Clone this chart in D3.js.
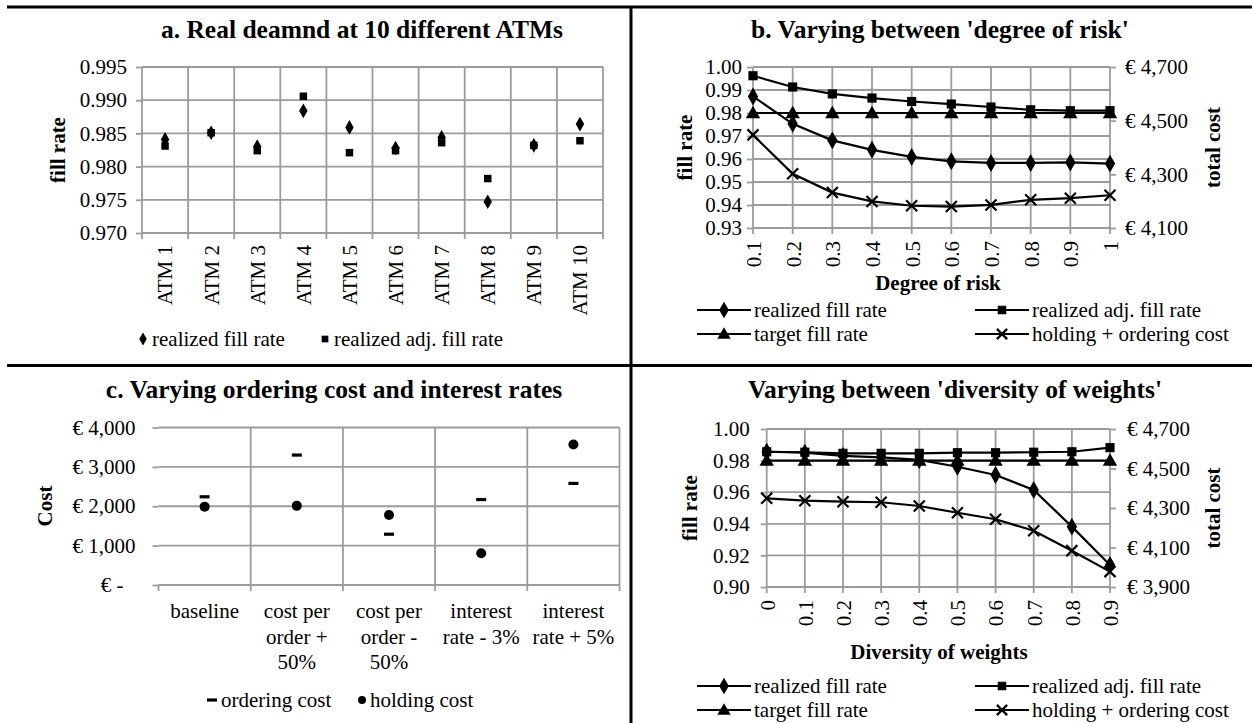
<!DOCTYPE html>
<html><head><meta charset="utf-8">
<script src="https://cdn.jsdelivr.net/npm/d3@7"></script>
<style>
body{margin:0;background:#fff;}
svg, svg text{font-family:"Liberation Serif","Tinos","Times New Roman","DejaVu Serif",serif;}
</style></head><body>
<svg id="chart" width="1252" height="723" font-family="Liberation Serif, Times New Roman, serif"></svg>
<script>
// ---------- Panel a data ----------
const atmCategories = ["ATM 1","ATM 2","ATM 3","ATM 4","ATM 5","ATM 6","ATM 7","ATM 8","ATM 9","ATM 10"];
const atmRealizedFill    = [0.9841,0.9851,0.9830,0.9884,0.9859,0.9828,0.9844,0.9747,0.9832,0.9864];
const atmRealizedAdjFill = [0.9831,0.9851,0.9824,0.9906,0.9821,0.9824,0.9836,0.9782,0.9832,0.9839];
const atmTicks = [0.970,0.975,0.980,0.985,0.990,0.995];

// ---------- Panel b data ----------
const riskLevels = ["0.1","0.2","0.3","0.4","0.5","0.6","0.7","0.8","0.9","1"];
const riskRealizedFill    = [0.9872,0.9753,0.9681,0.9640,0.9609,0.9590,0.9583,0.9583,0.9585,0.9580];
const riskRealizedAdjFill = [0.9962,0.9913,0.9883,0.9865,0.9850,0.9839,0.9826,0.9814,0.9810,0.9810];
const riskTargetFill      = [0.98,0.98,0.98,0.98,0.98,0.98,0.98,0.98,0.98,0.98];
const riskTotalCost       = [4447,4302,4232,4199,4183,4180,4186,4205,4211,4222];
const riskFillTicks = [0.93,0.94,0.95,0.96,0.97,0.98,0.99,1.00];
const riskCostTicks = [4100,4300,4500,4700];

// ---------- Panel c data ----------
const costScenarios = ["baseline","cost per order + 50%","cost per order - 50%","interest rate - 3%","interest rate + 5%"];
const costScenarioLines = [["baseline"],["cost per","order +","50%"],["cost per","order -","50%"],["interest","rate - 3%"],["interest","rate + 5%"]];
const orderingCost = [2240,3300,1290,2170,2580];
const holdingCost  = [1990,2010,1780,805,3570];
const costTicks = [0,1000,2000,3000,4000];

// ---------- Panel d data ----------
const diversityLevels = ["0","0.1","0.2","0.3","0.4","0.5","0.6","0.7","0.8","0.9"];
const divRealizedFill    = [0.9856,0.9850,0.9830,0.9820,0.9804,0.9761,0.9709,0.9614,0.9382,0.9139];
const divRealizedAdjFill = [0.9856,0.9853,0.9846,0.9846,0.9846,0.9850,0.9850,0.9853,0.9856,0.9882];
const divTargetFill      = [0.98,0.98,0.98,0.98,0.98,0.98,0.98,0.98,0.98,0.98];
const divTotalCost       = [4349,4337,4332,4329,4310,4276,4243,4185,4084,3978];
const divFillTicks = [0.90,0.92,0.94,0.96,0.98,1.00];
const divCostTicks = [3900,4100,4300,4500,4700];

// ---------- style ----------
const FONT = '"Liberation Serif","Tinos","Times New Roman","DejaVu Serif",serif';
const GRID = "#9b9b9b", GW = 1.8;
const FS = 21, TFS = 25.5;
const svg = d3.select("#chart");
const euro = v => v === 0 ? "€ -" : "€ " + d3.format(",")(v);

function styleAxis(g){
  g.select(".domain").remove();
  g.selectAll(".tick line").attr("stroke", GRID).attr("stroke-width", GW);
  g.selectAll(".tick text").attr("fill","#000").style("font-size", FS+"px").style("font-family",FONT);
}
function title(x,y,t){
  svg.append("text").attr("x",x).attr("y",y).attr("text-anchor","middle").style("font-family",FONT)
    .style("font-size",TFS+"px").style("font-weight","bold").text(t);
}
function vtitle(x,y,t){
  svg.append("text").attr("transform",`translate(${x},${y}) rotate(-90)`).attr("dy","0.35em").style("font-family",FONT)
    .attr("text-anchor","middle").style("font-size",FS+"px").style("font-weight","bold").text(t);
}
function htitle(x,y,t){
  svg.append("text").attr("x",x).attr("y",y).attr("dy","0.35em").style("font-family",FONT)
    .attr("text-anchor","middle").style("font-size",FS+"px").style("font-weight","bold").text(t);
}
function hgrid(scale, ticks, x1, x2){
  svg.append("g").selectAll("line").data(ticks).join("line")
    .attr("x1",x1).attr("x2",x2).attr("y1",d=>scale(d)).attr("y2",d=>scale(d))
    .attr("stroke",GRID).attr("stroke-width",GW);
}
function vgrid(xs, y1, y2){
  svg.append("g").selectAll("line").data(xs).join("line")
    .attr("x1",d=>d).attr("x2",d=>d).attr("y1",y1).attr("y2",y2)
    .attr("stroke",GRID).attr("stroke-width",GW);
}
function marker(g, type, x, y, s){
  s = s || 1;
  if(type==="diamond") g.append("path").attr("d",d3.symbol(d3.symbolDiamond, 62*s)()).attr("transform",`translate(${x},${y})`).attr("fill","#000");
  else if(type==="square") g.append("path").attr("d",d3.symbol(d3.symbolSquare, 56*s)()).attr("transform",`translate(${x},${y})`).attr("fill","#000");
  else if(type==="triangle") g.append("path").attr("d",d3.symbol(d3.symbolTriangle, 60*s)()).attr("transform",`translate(${x},${y+1})`).attr("fill","#000");
  else if(type==="x"){ const r=4.5*Math.sqrt(s); g.append("path").attr("d",`M${-r},${-r}L${r},${r}M${r},${-r}L${-r},${r}`).attr("transform",`translate(${x},${y})`).attr("stroke","#000").attr("stroke-width",2.2).attr("fill","none"); }
  else if(type==="dot") g.append("circle").attr("cx",x).attr("cy",y).attr("r",5*s).attr("fill","#000");
  else if(type==="dash") g.append("rect").attr("x",x-5).attr("y",y-1.6).attr("width",10).attr("height",3.2).attr("fill","#000");
}
function legendText(x,y,t){
  svg.append("text").attr("x",x).attr("y",y).attr("dy","0.35em").style("font-family",FONT).style("font-size",FS+"px").text(t);
}

// ---------- frame ----------
svg.append("line").attr("x1",7).attr("x2",1252).attr("y1",7).attr("y2",7).attr("stroke","#000").attr("stroke-width",3);
svg.append("line").attr("x1",631).attr("x2",631).attr("y1",6).attr("y2",723).attr("stroke","#000").attr("stroke-width",3);
svg.append("line").attr("x1",7).attr("x2",1252).attr("y1",365.5).attr("y2",365.5).attr("stroke","#000").attr("stroke-width",3);

// ================= Panel a =================
{
  const aX = d3.scaleBand().domain(atmCategories).range([142,603]);
  const aY = d3.scaleLinear().domain([0.970,0.995]).range([233,67]);
  hgrid(aY, atmTicks, 142, 603);
  const bounds = atmCategories.map(c=>aX(c)).concat([aX.range()[1]]);
  vgrid(bounds, 67, 239);
  const gy = svg.append("g").attr("transform","translate(142,0)")
    .call(d3.axisLeft(aY).tickValues(atmTicks).tickFormat(d3.format(".3f")).tickSize(6).tickPadding(9));
  styleAxis(gy);
  const gx = svg.append("g").attr("transform","translate(0,233)")
    .call(d3.axisBottom(aX).tickSize(0));
  styleAxis(gx);
  gx.selectAll(".tick text").attr("transform","rotate(-90)").attr("x",-12).attr("y",0).attr("dy","0.35em").style("text-anchor","end");
  const m = svg.append("g");
  atmCategories.forEach((c,i)=>{
    const cx = aX(c)+aX.bandwidth()/2;
    marker(m,"square",cx,aY(atmRealizedAdjFill[i]));
    marker(m,"diamond",cx,aY(atmRealizedFill[i]));
  });
  title(362,38,"a. Real deamnd at 10 different ATMs");
  vtitle(58,150,"fill rate");
  marker(svg,"diamond",143,339,0.8); legendText(152,339,"realized fill rate");
  marker(svg,"square",325,339,0.8); legendText(334,339,"realized adj. fill rate");
}

// ================= Panel b & d helper =================
function linePanel(o){
  const X = d3.scalePoint().domain(o.cats).range([o.x0,o.x1]);
  const Y = d3.scaleLinear().domain(o.yDom).range([o.y1,o.y0]);
  const Y2 = d3.scaleLinear().domain(o.y2Dom).range([o.y1,o.y0]);
  hgrid(Y, o.yTicks, o.x0, o.x1);
  vgrid(o.cats.map(c=>X(c)), o.y0, o.y1+6);
  const gl = svg.append("g").attr("transform",`translate(${o.x0},0)`)
    .call(d3.axisLeft(Y).tickValues(o.yTicks).tickFormat(d3.format(".2f")).tickSize(6).tickPadding(o.lpad));
  styleAxis(gl);
  const gr = svg.append("g").attr("transform",`translate(${o.x1},0)`)
    .call(d3.axisRight(Y2).tickValues(o.y2Ticks).tickFormat(euro).tickSize(6).tickPadding(o.rpad));
  styleAxis(gr);
  const gx = svg.append("g").attr("transform",`translate(0,${o.y1})`)
    .call(d3.axisBottom(X).tickSize(0));
  styleAxis(gx);
  gx.selectAll(".tick text").attr("transform","rotate(-90)").attr("x",-13).attr("y",0).attr("dy","0.35em").style("text-anchor","end");
  const series = [
    {v:o.adj, s:Y, m:"square"},
    {v:o.target, s:Y, m:"triangle"},
    {v:o.real, s:Y, m:"diamond"},
    {v:o.cost, s:Y2, m:"x"}
  ];
  series.forEach(sr=>{
    const ln = d3.line().x((d,i)=>X(o.cats[i])).y(d=>sr.s(d));
    svg.append("path").datum(sr.v).attr("d",ln).attr("fill","none").attr("stroke","#000").attr("stroke-width",2.2);
    const g = svg.append("g");
    sr.v.forEach((d,i)=>marker(g, sr.m, X(o.cats[i]), sr.s(d), 1.5));
  });
  title(o.tx,o.ty,o.title);
  vtitle(o.lx,(o.y0+o.y1)/2,"fill rate");
  vtitle(o.rx,(o.y0+o.y1)/2,"total cost");
  htitle(o.xtx,o.xty,o.xtitle);
  const L = [["diamond","realized fill rate",o.lg1,o.r1],["square","realized adj. fill rate",o.lg2,o.r1],
             ["triangle","target fill rate",o.lg1,o.r2],["x","holding + ordering cost",o.lg2,o.r2]];
  L.forEach(([mk,t,x,y])=>{
    svg.append("line").attr("x1",x).attr("x2",x+54).attr("y1",y).attr("y2",y).attr("stroke","#000").attr("stroke-width",2.2);
    marker(svg,mk,x+27,y,1.3);
    legendText(x+57,y,t);
  });
}

linePanel({cats:riskLevels, x0:753, x1:1110, y0:67, y1:228, yDom:[0.93,1.00], y2Dom:[4100,4700],
  yTicks:riskFillTicks, y2Ticks:riskCostTicks, lpad:5, rpad:9,
  adj:riskRealizedAdjFill, target:riskTargetFill, real:riskRealizedFill, cost:riskTotalCost,
  title:"b. Varying between 'degree of risk'", tx:940, ty:38, lx:685, rx:1213,
  xtitle:"Degree of risk", xtx:938, xty:283, r1:310, r2:334, lg1:697, lg2:975});

linePanel({cats:diversityLevels, x0:766.7, x1:1110, y0:429, y1:587, yDom:[0.90,1.00], y2Dom:[3900,4700],
  yTicks:divFillTicks, y2Ticks:divCostTicks, lpad:11, rpad:11,
  adj:divRealizedAdjFill, target:divTargetFill, real:divRealizedFill, cost:divTotalCost,
  title:"Varying between 'diversity of weights'", tx:955, ty:398, lx:690, rx:1213,
  xtitle:"Diversity of weights", xtx:939, xty:652, r1:686, r2:710, lg1:697, lg2:975});

// ================= Panel c =================
{
  const cX = d3.scaleBand().domain(costScenarios).range([158.5,619.5]);
  const cY = d3.scaleLinear().domain([0,4000]).range([585,427.5]);
  hgrid(cY, costTicks, 158.5, 619.5);
  const bounds = costScenarios.map(c=>cX(c)).concat([cX.range()[1]]);
  vgrid(bounds.slice(1), 427.5, 591);
  vgrid([bounds[0]], 585, 591);
  const gy = svg.append("g").attr("transform","translate(158.5,0)")
    .call(d3.axisLeft(cY).tickValues(costTicks).tickFormat(euro).tickSize(6).tickPadding(17));
  styleAxis(gy);
  gy.selectAll(".tick text").filter(d=>d===0).attr("x",-35);
  const gx = svg.append("g");
  costScenarios.forEach((c,i)=>{
    const t = gx.append("text").attr("text-anchor","middle").style("font-size",FS+"px").style("font-family",FONT)
      .attr("transform",`translate(${cX(c)+cX.bandwidth()/2},611)`);
    costScenarioLines[i].forEach((ln,j)=>t.append("tspan").attr("x",0).attr("dy", j===0?"0.35em":"1.2em").text(ln));
  });
  const m = svg.append("g");
  costScenarios.forEach((c,i)=>{
    const cx = cX(c)+cX.bandwidth()/2;
    marker(m,"dash",cx,cY(orderingCost[i]));
    marker(m,"dot",cx,cY(holdingCost[i]));
  });
  title(334,398,"c. Varying ordering cost and interest rates");
  vtitle(45,506,"Cost");
  marker(svg,"dash",212,700); legendText(221,700,"ordering cost");
  marker(svg,"dot",362,700,0.8); legendText(370,700,"holding cost");
}
</script>
</body></html>
